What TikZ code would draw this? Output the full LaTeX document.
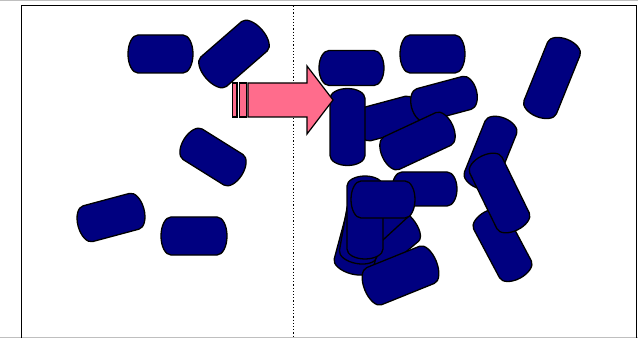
\documentclass[tikz,border=0pt]{standalone}
\usepackage{tikz}
\definecolor{pillblue}{RGB}{0,0,128}
\definecolor{arrowpink}{RGB}{255,108,140}
\tikzset{
  pillstyle/.style={fill=pillblue, draw=black, line width=1.3pt, line join=round},
  arrowstyle/.style={fill=arrowpink, draw=black, line width=1.2pt, line join=miter},
  framestyle/.style={draw=black, line width=1.9pt},
  edgestyle/.style={draw=black!25, line width=1pt},
  dividerstyle/.style={draw=black, line width=1.1pt, dash pattern=on 1.3pt off 1.9pt}
}
% #1 x (px), #2 y (px from top), #3 angle, #4 length, #5 width
\newcommand\pill[5]{%
  \path[pillstyle, shift={({#1},{338-#2})}, rotate=#3]
    ({-#4/2+10},{#5/2}) -- ({#4/2-10},{#5/2})
    arc[start angle=90, end angle=-90, x radius=10pt, y radius={#5/2*1pt}]
    -- ({-#4/2+10},{-#5/2})
    arc[start angle=270, end angle=90, x radius=10pt, y radius={#5/2*1pt}]
    -- cycle;}
\begin{document}
\begin{tikzpicture}[x=1pt, y=1pt]
\useasboundingbox (0,0) rectangle (638,338);
\fill[white] (0,0) rectangle (638,338);
% image edges
\path[edgestyle] (0,337.5) -- (638,337.5);
\path[edgestyle] (0,0.5) -- (638,0.5);
% frame
\path[framestyle] (21.5,0) -- (21.5,332.5) -- (636.5,332.5) -- (636.5,0);
% divider
\path[dividerstyle] (293.5,332) -- (293.5,0);
% left panel
\pill{160.5}{54}{0}{65}{38}
\pill{234}{54}{41}{74}{39}
\pill{213}{157}{-32}{68}{36}
\pill{111}{217.5}{15}{68}{37}
\pill{194}{236}{0}{66}{38}
% right panel
\pill{351.5}{68}{0}{65}{35}
\pill{432.5}{54}{0}{65}{38}
\pill{552}{78}{68}{83}{35}
\pill{388}{118.5}{15}{65}{34}
\pill{444}{99}{15}{67}{34}
\pill{347.5}{127}{90}{77}{35}
\pill{417.5}{141}{25}{77}{36}
\pill{490.5}{153}{68}{75}{34}
\pill{502.5}{245}{-62}{75}{36}
\pill{499.5}{193}{-64}{82}{36}
\pill{424.5}{189}{0}{65}{34}
\pill{385}{242}{40}{72}{42}
\pill{360}{240}{75}{70}{40}
\pill{362}{232}{80}{64}{38}
\pill{382.6}{214.5}{42.6}{60}{38}
\pill{365}{217.5}{90}{83}{36}
\pill{383}{199.5}{0}{64}{37}
\pill{400.5}{275.5}{22}{77}{40}
% arrow
\path[arrowstyle] (232.5,221) rectangle (237,255);
\path[arrowstyle] (239.5,221) rectangle (246.5,255);
\path[arrowstyle] (248,221) -- (248,255) -- (307,255) -- (307,272) -- (333,238) -- (307,204) -- (307,221) -- cycle;
\end{tikzpicture}
\end{document}
